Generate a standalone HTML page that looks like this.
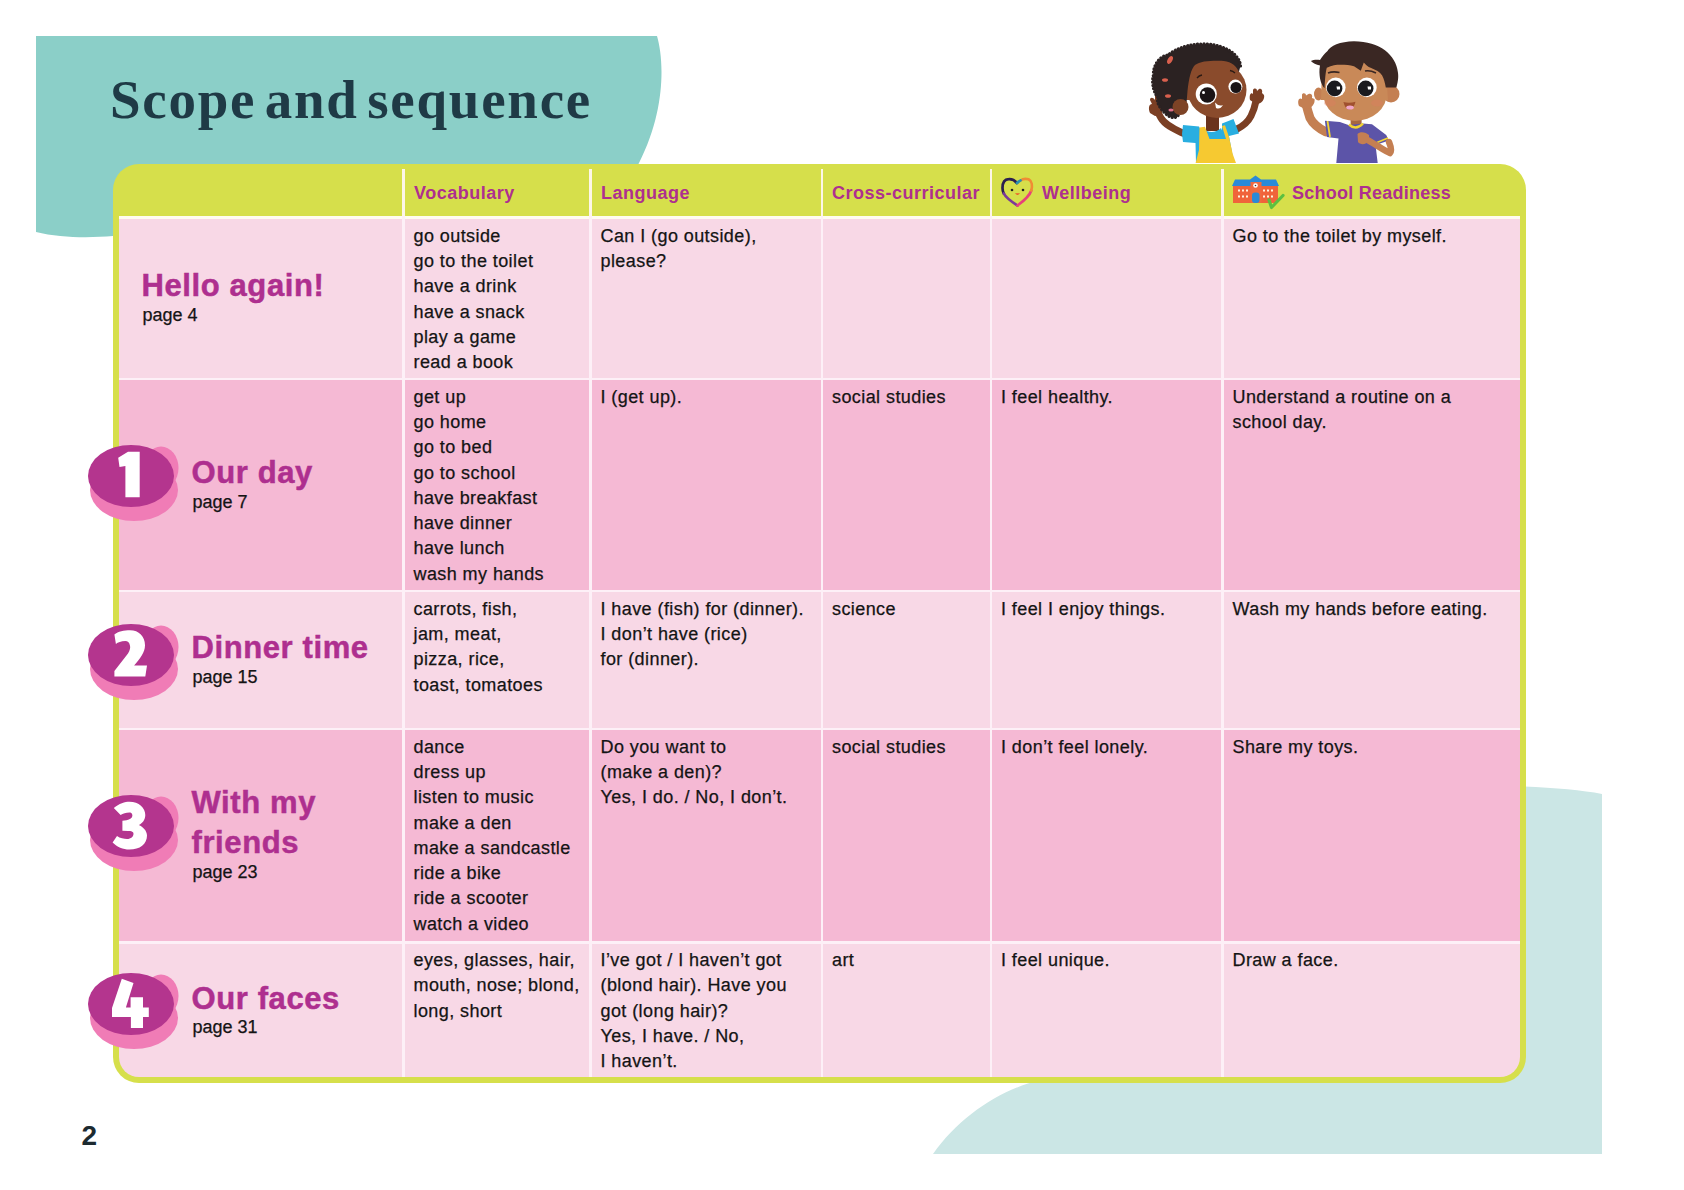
<!DOCTYPE html>
<html><head><meta charset="utf-8"><style>
html,body{margin:0;padding:0;background:#fff;}
body{width:1684px;height:1190px;position:relative;overflow:hidden;font-family:"Liberation Sans",sans-serif;}
.a{position:absolute;}
.t{position:absolute;white-space:nowrap;font-size:18px;line-height:25.3px;letter-spacing:0.42px;color:#141414;-webkit-text-stroke:0.25px #141414;}
.h{position:absolute;white-space:nowrap;font-size:18px;line-height:21px;font-weight:bold;letter-spacing:0.5px;color:#ae2f8f;}
.u{position:absolute;white-space:nowrap;font-size:31px;line-height:40px;font-weight:bold;letter-spacing:0.6px;color:#ae2f8f;-webkit-text-stroke:0.5px #ae2f8f;}
</style></head><body>
<svg class="a" style="left:0;top:0" width="1684" height="1190" viewBox="0 0 1684 1190">
<path d="M36,36 L657,36 C664,60 666,110 639,163 L560,300 L113,300 L113,236 C90,238 60,238 36,232 Z" fill="#8bcfc8"/>
<path d="M1400,786 C1480,784 1560,786 1602,794 L1602,1154 L933,1154 C960,1116 1000,1090 1040,1080 L1400,900 Z" fill="#cbe6e5"/>
</svg>
<div class="a" style="left:110px;top:69.5px;font-family:'Liberation Serif',serif;font-weight:bold;font-size:55px;line-height:60px;letter-spacing:1.75px;word-spacing:-7px;color:#1f3a46;white-space:nowrap">Scope and sequence</div>
<div class="a" style="left:113px;top:163.5px;width:1412.5px;height:919.5px;background:#d6df4b;border-radius:26px;"></div>
<div class="a" style="left:118.5px;top:218.5px;width:283.5px;height:159.0px;background:#f8d8e6;"></div>
<div class="a" style="left:404.5px;top:218.5px;width:184.5px;height:159.0px;background:#f8d8e6;"></div>
<div class="a" style="left:591.5px;top:218.5px;width:229.0px;height:159.0px;background:#f8d8e6;"></div>
<div class="a" style="left:823.0px;top:218.5px;width:166.5px;height:159.0px;background:#f8d8e6;"></div>
<div class="a" style="left:992.0px;top:218.5px;width:229.0px;height:159.0px;background:#f8d8e6;"></div>
<div class="a" style="left:1223.5px;top:218.5px;width:296.5px;height:159.0px;background:#f8d8e6;"></div>
<div class="a" style="left:118.5px;top:380.0px;width:283.5px;height:209.5px;background:#f5b9d4;"></div>
<div class="a" style="left:404.5px;top:380.0px;width:184.5px;height:209.5px;background:#f5b9d4;"></div>
<div class="a" style="left:591.5px;top:380.0px;width:229.0px;height:209.5px;background:#f5b9d4;"></div>
<div class="a" style="left:823.0px;top:380.0px;width:166.5px;height:209.5px;background:#f5b9d4;"></div>
<div class="a" style="left:992.0px;top:380.0px;width:229.0px;height:209.5px;background:#f5b9d4;"></div>
<div class="a" style="left:1223.5px;top:380.0px;width:296.5px;height:209.5px;background:#f5b9d4;"></div>
<div class="a" style="left:118.5px;top:592.0px;width:283.5px;height:135.5px;background:#f8d8e6;"></div>
<div class="a" style="left:404.5px;top:592.0px;width:184.5px;height:135.5px;background:#f8d8e6;"></div>
<div class="a" style="left:591.5px;top:592.0px;width:229.0px;height:135.5px;background:#f8d8e6;"></div>
<div class="a" style="left:823.0px;top:592.0px;width:166.5px;height:135.5px;background:#f8d8e6;"></div>
<div class="a" style="left:992.0px;top:592.0px;width:229.0px;height:135.5px;background:#f8d8e6;"></div>
<div class="a" style="left:1223.5px;top:592.0px;width:296.5px;height:135.5px;background:#f8d8e6;"></div>
<div class="a" style="left:118.5px;top:730.0px;width:283.5px;height:211.0px;background:#f5b9d4;"></div>
<div class="a" style="left:404.5px;top:730.0px;width:184.5px;height:211.0px;background:#f5b9d4;"></div>
<div class="a" style="left:591.5px;top:730.0px;width:229.0px;height:211.0px;background:#f5b9d4;"></div>
<div class="a" style="left:823.0px;top:730.0px;width:166.5px;height:211.0px;background:#f5b9d4;"></div>
<div class="a" style="left:992.0px;top:730.0px;width:229.0px;height:211.0px;background:#f5b9d4;"></div>
<div class="a" style="left:1223.5px;top:730.0px;width:296.5px;height:211.0px;background:#f5b9d4;"></div>
<div class="a" style="left:118.5px;top:943.5px;width:283.5px;height:133.5px;background:#f8d8e6;border-bottom-left-radius:20px;"></div>
<div class="a" style="left:404.5px;top:943.5px;width:184.5px;height:133.5px;background:#f8d8e6;"></div>
<div class="a" style="left:591.5px;top:943.5px;width:229.0px;height:133.5px;background:#f8d8e6;"></div>
<div class="a" style="left:823.0px;top:943.5px;width:166.5px;height:133.5px;background:#f8d8e6;"></div>
<div class="a" style="left:992.0px;top:943.5px;width:229.0px;height:133.5px;background:#f8d8e6;"></div>
<div class="a" style="left:1223.5px;top:943.5px;width:296.5px;height:133.5px;background:#f8d8e6;border-bottom-right-radius:20px;"></div>
<div class="a" style="left:402.0px;top:169px;width:2.5px;height:47px;background:#fdf6e8"></div>
<div class="a" style="left:589.0px;top:169px;width:2.5px;height:47px;background:#fdf6e8"></div>
<div class="a" style="left:820.5px;top:169px;width:2.5px;height:47px;background:#fdf6e8"></div>
<div class="a" style="left:989.5px;top:169px;width:2.5px;height:47px;background:#fdf6e8"></div>
<div class="a" style="left:1221.0px;top:169px;width:2.5px;height:47px;background:#fdf6e8"></div>
<div class="a" style="left:118.5px;top:216.0px;width:1401.5px;height:2.5px;background:#fffcf0"></div>
<div class="a" style="left:118.5px;top:377.5px;width:1401.5px;height:2.5px;background:#fdf0f7"></div>
<div class="a" style="left:118.5px;top:589.5px;width:1401.5px;height:2.5px;background:#fdf0f7"></div>
<div class="a" style="left:118.5px;top:727.5px;width:1401.5px;height:2.5px;background:#fdf0f7"></div>
<div class="a" style="left:118.5px;top:941.0px;width:1401.5px;height:2.5px;background:#fdf0f7"></div>
<div class="a" style="left:402.0px;top:216px;width:2.5px;height:861px;background:#fdf0f7"></div>
<div class="a" style="left:589.0px;top:216px;width:2.5px;height:861px;background:#fdf0f7"></div>
<div class="a" style="left:820.5px;top:216px;width:2.5px;height:861px;background:#fdf0f7"></div>
<div class="a" style="left:989.5px;top:216px;width:2.5px;height:861px;background:#fdf0f7"></div>
<div class="a" style="left:1221.0px;top:216px;width:2.5px;height:861px;background:#fdf0f7"></div>
<div class="h" style="left:414px;top:182.9px">Vocabulary</div>
<div class="h" style="left:601px;top:182.9px">Language</div>
<div class="h" style="left:832px;top:182.9px">Cross-curricular</div>
<div class="h" style="left:1042px;top:182.9px">Wellbeing</div>
<div class="h" style="left:1292px;top:182.9px;letter-spacing:0.25px">School Readiness</div>
<svg class="a" style="left:990px;top:170px" width="50" height="45" viewBox="990 170 50 45">
<g fill="none" stroke-width="2.7" stroke-linecap="round">
<path d="M1017,183 C1014,179.5 1011,179 1008.7,179.2 C1004,179.5 1002.5,184 1002.5,188 C1002.5,190 1003,192 1003.8,193.5" stroke="#2b1f4f"/>
<path d="M1003.8,193.5 C1006,198 1012,202 1017.5,205.5" stroke="#7b3a98"/>
<path d="M1017.5,205.5 C1023,201.5 1029.5,196 1031.3,190.5" stroke="#e8407a"/>
<path d="M1031.3,190.5 C1032.5,186 1032,181 1028.5,179.3 C1025.5,178.3 1022.5,179 1020.5,180.5" stroke="#f08c34"/>
<path d="M1020.5,180.5 C1019,181.5 1018,182 1017,183" stroke="#2a90b0"/>
</g>
<circle cx="1012" cy="190" r="1.3" fill="#222"/><circle cx="1023" cy="190" r="1.3" fill="#222"/>
<path d="M1015,193.3 Q1017.5,196.8 1020,193.3 Z" fill="#e8602a"/>
</svg>
<svg class="a" style="left:1230px;top:174px" width="56" height="38" viewBox="0 0 56 38">
<rect x="3" y="11.5" width="45" height="17.5" fill="#f0643a"/>
<path d="M2,12 L5,5.5 L20,5.5 L25.5,1.5 L31,5.5 L46,5.5 L49,12 Z" fill="#2a8ad8"/>
<rect x="20.5" y="8" width="11" height="21" fill="#f06a40"/>
<circle cx="25.5" cy="11.5" r="2.3" fill="#fff"/><circle cx="25.5" cy="11.5" r="0.8" fill="#333"/>
<rect x="22" y="18.5" width="7.5" height="10.5" rx="3" fill="#2a8ad8"/>
<g fill="#fff5e0">
<rect x="8" y="15.5" width="2" height="2"/><rect x="12" y="15.5" width="2" height="2"/><rect x="16" y="15.5" width="2" height="2"/>
<rect x="8" y="21.5" width="2" height="2"/><rect x="12" y="21.5" width="2" height="2"/><rect x="16" y="21.5" width="2" height="2"/>
<rect x="33" y="15.5" width="2" height="2"/><rect x="37" y="15.5" width="2" height="2"/><rect x="41" y="15.5" width="2" height="2"/>
<rect x="33" y="21.5" width="2" height="2"/><rect x="37" y="21.5" width="2" height="2"/><rect x="41" y="21.5" width="2" height="2"/>
</g>
<path d="M39,26 L41.5,33.5 L53,21.5" fill="none" stroke="#5cc040" stroke-width="3.2" stroke-linecap="round" stroke-linejoin="round"/>
</svg>
<div class="t" style="left:413.5px;top:223.8px">go outside<br>go to the toilet<br>have a drink<br>have a snack<br>play a game<br>read a book</div>
<div class="t" style="left:600.5px;top:223.8px">Can I (go outside),<br>please?</div>
<div class="t" style="left:1232.5px;top:223.8px">Go to the toilet by myself.</div>
<div class="u" style="left:141.5px;top:266.3px">Hello again!</div>
<div class="t" style="left:142.5px;top:305.0px;line-height:21px;letter-spacing:0px">page 4</div>
<div class="t" style="left:413.5px;top:384.7px">get up<br>go home<br>go to bed<br>go to school<br>have breakfast<br>have dinner<br>have lunch<br>wash my hands</div>
<div class="t" style="left:600.5px;top:384.7px">I (get up).</div>
<div class="t" style="left:832.0px;top:384.7px">social studies</div>
<div class="t" style="left:1001.0px;top:384.7px">I feel healthy.</div>
<div class="t" style="left:1232.5px;top:384.7px">Understand a routine on a<br>school day.</div>
<div class="u" style="left:191.5px;top:452.6px">Our day</div>
<div class="t" style="left:192.5px;top:492.1px;line-height:21px;letter-spacing:0px">page 7</div>
<svg class="a" style="left:80px;top:436.0px" width="110" height="95" viewBox="0 0 110 95">
<ellipse cx="54" cy="54" rx="44" ry="31" fill="#f07cb6"/>
<ellipse cx="81" cy="32" rx="17.5" ry="21.5" fill="#f07cb6"/>
<ellipse cx="51" cy="40" rx="43" ry="31" fill="#b4358e"/>
<path transform="translate(51 40)" d="M-12.8,-18.3 L-3,-24.2 L8.7,-24.2 L8.7,21.2 L-5.6,21.2 L-5.6,-10 L-11.5,-9 Z" fill="#fff"/>
</svg>
<div class="t" style="left:413.5px;top:596.7px">carrots, fish,<br>jam, meat,<br>pizza, rice,<br>toast, tomatoes</div>
<div class="t" style="left:600.5px;top:596.7px">I have (fish) for (dinner).<br>I don’t have (rice)<br>for (dinner).</div>
<div class="t" style="left:832.0px;top:596.7px">science</div>
<div class="t" style="left:1001.0px;top:596.7px">I feel I enjoy things.</div>
<div class="t" style="left:1232.5px;top:596.7px">Wash my hands before eating.</div>
<div class="u" style="left:191.5px;top:628.1px">Dinner time</div>
<div class="t" style="left:192.5px;top:667.1px;line-height:21px;letter-spacing:0px">page 15</div>
<svg class="a" style="left:80px;top:614.5px" width="110" height="95" viewBox="0 0 110 95">
<ellipse cx="54" cy="54" rx="44" ry="31" fill="#f07cb6"/>
<ellipse cx="81" cy="32" rx="17.5" ry="21.5" fill="#f07cb6"/>
<ellipse cx="51" cy="40" rx="43" ry="31" fill="#b4358e"/>
<path transform="translate(51 40)" d="M-16.6,-20.5 C-13,-23.5 -7,-24.8 -1,-24.8 C8,-24.8 14,-18.5 14,-9.8 C14,-2.5 9,3.5 3.1,10.5 L16,10.5 L14.3,21.5 L-16.6,21.5 L-16.6,16.1 L-3,-1.5 C-1,-4.5 -0.5,-7.5 -1,-9.2 C-1.5,-12.5 -3.5,-13.9 -5.7,-13.9 C-10,-13.9 -13,-12.5 -15.1,-11 Z" fill="#fff"/>
</svg>
<div class="t" style="left:413.5px;top:734.7px">dance<br>dress up<br>listen to music<br>make a den<br>make a sandcastle<br>ride a bike<br>ride a scooter<br>watch a video</div>
<div class="t" style="left:600.5px;top:734.7px">Do you want to<br>(make a den)?<br>Yes, I do. / No, I don’t.</div>
<div class="t" style="left:832.0px;top:734.7px">social studies</div>
<div class="t" style="left:1001.0px;top:734.7px">I don’t feel lonely.</div>
<div class="t" style="left:1232.5px;top:734.7px">Share my toys.</div>
<div class="u" style="left:191.5px;top:782.7px">With my</div>
<div class="u" style="left:191.5px;top:822.8px">friends</div>
<div class="t" style="left:192.5px;top:861.8px;line-height:21px;letter-spacing:0px">page 23</div>
<svg class="a" style="left:80px;top:785.5px" width="110" height="95" viewBox="0 0 110 95">
<ellipse cx="54" cy="54" rx="44" ry="31" fill="#f07cb6"/>
<ellipse cx="81" cy="32" rx="17.5" ry="21.5" fill="#f07cb6"/>
<ellipse cx="51" cy="40" rx="43" ry="31" fill="#b4358e"/>
<path transform="translate(51 40)" d="M-17.2,-17.9 C-12,-22.5 -6,-24.3 -1.6,-24.3 C8,-24.3 14.3,-18 14.3,-11.1 C14.3,-6 11,-2.5 7.8,-1.1 C12,1 16,4.5 16,9.5 C16,18 9,23.6 -1.6,23.6 C-8,23.6 -14,21 -18.4,16.5 L-14,10.1 C-11,12.5 -7,13 -4,13 C0,13 2.5,10.5 2.5,7.7 C2.5,5.5 0,5 -2.8,5 L-8.6,4.8 L-8.6,-5.2 L-4.5,-5.8 C-1,-6.5 1.4,-8 1.4,-10.5 C1.4,-13 -0.5,-13.5 -1.6,-13.5 C-5,-13.5 -8,-12.5 -10.4,-11.1 Z" fill="#fff"/>
</svg>
<div class="t" style="left:413.5px;top:948.2px">eyes, glasses, hair,<br>mouth, nose; blond,<br>long, short</div>
<div class="t" style="left:600.5px;top:948.2px">I’ve got / I haven’t got<br>(blond hair). Have you<br>got (long hair)?<br>Yes, I have. / No,<br>I haven’t.</div>
<div class="t" style="left:832.0px;top:948.2px">art</div>
<div class="t" style="left:1001.0px;top:948.2px">I feel unique.</div>
<div class="t" style="left:1232.5px;top:948.2px">Draw a face.</div>
<div class="u" style="left:191.5px;top:978.6px">Our faces</div>
<div class="t" style="left:192.5px;top:1017.3px;line-height:21px;letter-spacing:0px">page 31</div>
<svg class="a" style="left:80px;top:963.5px" width="110" height="95" viewBox="0 0 110 95">
<ellipse cx="54" cy="54" rx="44" ry="31" fill="#f07cb6"/>
<ellipse cx="81" cy="32" rx="17.5" ry="21.5" fill="#f07cb6"/>
<ellipse cx="51" cy="40" rx="43" ry="31" fill="#b4358e"/>
<path transform="translate(51 40)" d="M-9.2,-25.3 L2.5,-21.1 L-5.1,3.5 L-0.4,3.5 L-0.4,-6.7 L12,-6.7 L12,3.5 L17.8,3.5 L17.8,13 L12,13 L12,23.9 L-0.1,23.9 L-0.1,13 L-19,13 L-19,4.1 Z" fill="#fff"/>
</svg>
<svg class="a" style="left:1130px;top:30px" width="300" height="134" viewBox="1130 30 300 134">
<!-- girl -->
<g>
<path d="M1182.5,133 C1174,129 1165,125 1161,118 C1158,113 1157,110 1157,108" fill="none" stroke="#7b3f24" stroke-width="7" stroke-linecap="round"/>
<path d="M1237,129 C1243,126 1248,122 1251,116 C1254,110 1255,106 1256,101" fill="none" stroke="#7b3f24" stroke-width="7" stroke-linecap="round"/>
<path d="M1150,113 C1148,108 1149,104 1152,104 L1150,100 C1150,97 1153,97 1155,100 L1155,96 C1156,94 1159,95 1159,98 L1160,101 C1162,101 1164,103 1164,106 C1164,112 1160,116 1155,116 Z" fill="#7b3f24"/>
<path d="M1250,100 C1249,95 1251,92 1253,94 L1253,90 C1254,88 1257,88 1257,91 L1259,89 C1261,88 1263,90 1262,93 L1264,95 C1265,99 1262,104 1256,104 Z" fill="#7b3f24"/>
<rect x="1206" y="112" width="13" height="19" fill="#6a331d"/>
<path d="M1183,125 L1199,126.5 L1205,139 L1204,163 L1196,163 L1195.5,143 L1183,142 L1182,134 Z" fill="#29aee0"/>
<path d="M1222,123.5 L1233.5,119 L1239,133.5 L1229,136 L1234,163 L1222,163 Z" fill="#29aee0"/>
<path d="M1204,129 C1208,133 1216,133 1221,128 L1226,140 L1204,140 Z" fill="#29aee0"/>
<path d="M1199.5,127.5 L1205,126.7 L1209.5,139 L1226,139 L1222,126 L1225,125.2 L1229,137 L1232.7,154 L1236,163 L1195.6,163 L1199,150 Z" fill="#f6c931"/>
<ellipse cx="1217" cy="90" rx="29.5" ry="28" fill="#8a4b2c"/>
<path d="M1185,100 L1185,58 L1225,56 L1238,66 L1238.5,75 L1230,100 Z" fill="#8a4b2c"/>
<path d="M1238.8,72 C1236,64 1228,60.5 1220.6,60.7 C1210,60.5 1200,61 1195,65 C1191,69 1189,78 1187.5,91 L1186.6,102 C1184,105 1182,112 1178.3,115.2 C1176,119 1170,118 1166,114 C1160,109 1156,102 1158,98 C1152,90 1152,80 1153.3,76 C1153,64 1160,56 1168,55 C1178,47 1192,43.5 1206,44 C1226,45 1240,55 1240.5,66 Z" fill="#2b2222"/>
<path d="M1240.5,66 C1240,55 1226,45 1206,44 C1192,43.5 1178,47 1168,55 C1160,56 1153,64 1153.3,76 C1152,80 1152,90 1158,98 C1156,102 1160,109 1166,114 C1170,118 1176,119 1178.3,115.2" fill="none" stroke="#2b2222" stroke-width="3.2" stroke-dasharray="0.1 3.2" stroke-linecap="round"/>
<circle cx="1180.5" cy="107" r="8" fill="#7d4326"/>
<ellipse cx="1170" cy="60" rx="2.3" ry="4.2" fill="#d9604e" transform="rotate(30 1170 60)"/>
<ellipse cx="1165" cy="80" rx="3" ry="1.8" fill="#d9604e"/>
<ellipse cx="1168" cy="96" rx="3" ry="1.8" fill="#d9604e"/>
<ellipse cx="1171" cy="110" rx="2.6" ry="1.5" fill="#e0708a"/>
<path d="M1197,78 Q1199,75.5 1202,75" fill="none" stroke="#2b1a14" stroke-width="1.3"/>
<path d="M1230,70.5 Q1233,71 1235,73" fill="none" stroke="#2b1a14" stroke-width="1.3"/>
<circle cx="1206.3" cy="94" r="10.6" fill="#fff"/>
<circle cx="1207.5" cy="95" r="7.8" fill="#1a1416"/>
<circle cx="1203.5" cy="92.5" r="1.5" fill="#fff"/>
<circle cx="1235.4" cy="86.6" r="7" fill="#fff"/>
<circle cx="1236" cy="87.5" r="5.5" fill="#1a1416"/>
<path d="M1215,102.5 Q1219,107 1223,105 Q1220,110 1216,108 Z" fill="#fff"/>
</g>
<!-- boy -->
<g>
<path d="M1326,132 C1318,128 1313,124 1310,118 C1308,112 1307,108 1306,104" fill="none" stroke="#c47f52" stroke-width="9" stroke-linecap="round"/>
<path d="M1299,106 C1297,101 1299,97 1302,99 L1302,94.5 C1303,92.5 1306,93 1306,95.5 L1308.5,94 C1311,93 1313,95 1312,98 L1314.5,99 C1315.5,104 1311,109 1305,109 Z" fill="#c47f52"/>
<rect x="1350.6" y="116" width="11" height="11" fill="#a8683f"/>
<path d="M1324.9,120.7 L1339.9,122 L1348.4,125 L1362.7,123.5 L1372,124.2 L1386.2,134.9 L1389,140.6 L1375.5,144.9 L1377.7,163 L1336.3,163 L1338.5,138.5 L1327,137 Z" fill="#5c54a8"/>
<path d="M1349,124.5 Q1356,131 1363,123.5" fill="none" stroke="#f2d532" stroke-width="2.4"/>
<path d="M1327.5,121 L1330,137" stroke="#f2d532" stroke-width="1.8"/>
<path d="M1377,142.5 L1388,138" stroke="#f2d532" stroke-width="1.8"/>
<path d="M1389,142 C1391,147 1392,151 1390,153 C1386,152 1375,144 1366,139" fill="none" stroke="#c47f52" stroke-width="6.5" stroke-linecap="round"/>
<path d="M1357.5,134 C1360,131 1366,132 1369,135 L1369,141 C1366,145 1360,145 1358,142 Z" fill="#c47f52"/>
<circle cx="1391" cy="94" r="8.5" fill="#c47f52"/>
<ellipse cx="1318.5" cy="94" rx="4.5" ry="6.5" fill="#c47f52"/>
<ellipse cx="1355" cy="93" rx="32" ry="28" fill="#c98958"/>
<path d="M1321,100 L1322,66 L1340,62 L1365,60 L1386,72 L1388,100 Z" fill="#c98958"/>
<path d="M1324.5,88.2 C1325,80 1325.5,72 1326.8,67.8 C1332,65 1336,64.7 1340.4,64.7 C1346,64.7 1350,65 1354,66.3 L1360.8,70.8 L1363.8,62.5 C1366,65 1368,67 1370.6,67.8 C1376,70 1380,72 1382,75.3 C1384,79 1385,83 1385.8,87.4 L1396.4,87.4 C1398.5,80 1398.5,76 1397.9,72.3 C1396,55 1380,41.5 1354,41.3 C1340,41.5 1330,46 1327.5,51.1 C1324,54 1322,57 1320,60 C1316,59.5 1313,60 1310.9,61 C1313,63 1316,65 1320,65.5 C1319,70 1319.5,75 1320,78.4 C1321,83 1322.5,86 1324.5,88.2 Z" fill="#3a2723"/>
<path d="M1328,73 Q1333,71 1339.5,72.5" fill="none" stroke="#3a2723" stroke-width="1.6"/>
<path d="M1365,71 Q1370,70 1376,73" fill="none" stroke="#3a2723" stroke-width="1.6"/>
<circle cx="1335.8" cy="87.4" r="9.8" fill="#fff"/>
<circle cx="1334.6" cy="88.4" r="7.8" fill="#1a1a1e"/>
<path d="M1336.5,86.5 L1340,86.5 L1340,89.5 L1337,89.5 Z" fill="#fff"/>
<circle cx="1366.9" cy="87.4" r="9.8" fill="#fff"/>
<circle cx="1365.7" cy="88.4" r="7.8" fill="#1a1a1e"/>
<path d="M1367.5,86.5 L1371,86.5 L1371,89.5 L1368,89.5 Z" fill="#fff"/>
<ellipse cx="1330" cy="103" rx="6" ry="3.5" fill="#e07a60" opacity="0.35"/>
<ellipse cx="1377" cy="103" rx="6" ry="3.5" fill="#e07a60" opacity="0.35"/>
<path d="M1343.4,102 Q1349,103.5 1355.5,101.8 Q1354,109.4 1348,109.4 Q1345,108 1343.4,102 Z" fill="#a0502e"/>
<ellipse cx="1350" cy="107.6" rx="3.8" ry="2" fill="#f0a6c8"/>
</g>
</svg>
<div class="a" style="left:81.5px;top:1120.5px;font-size:28px;line-height:30px;font-weight:bold;color:#1c2a30">2</div>
</body></html>
